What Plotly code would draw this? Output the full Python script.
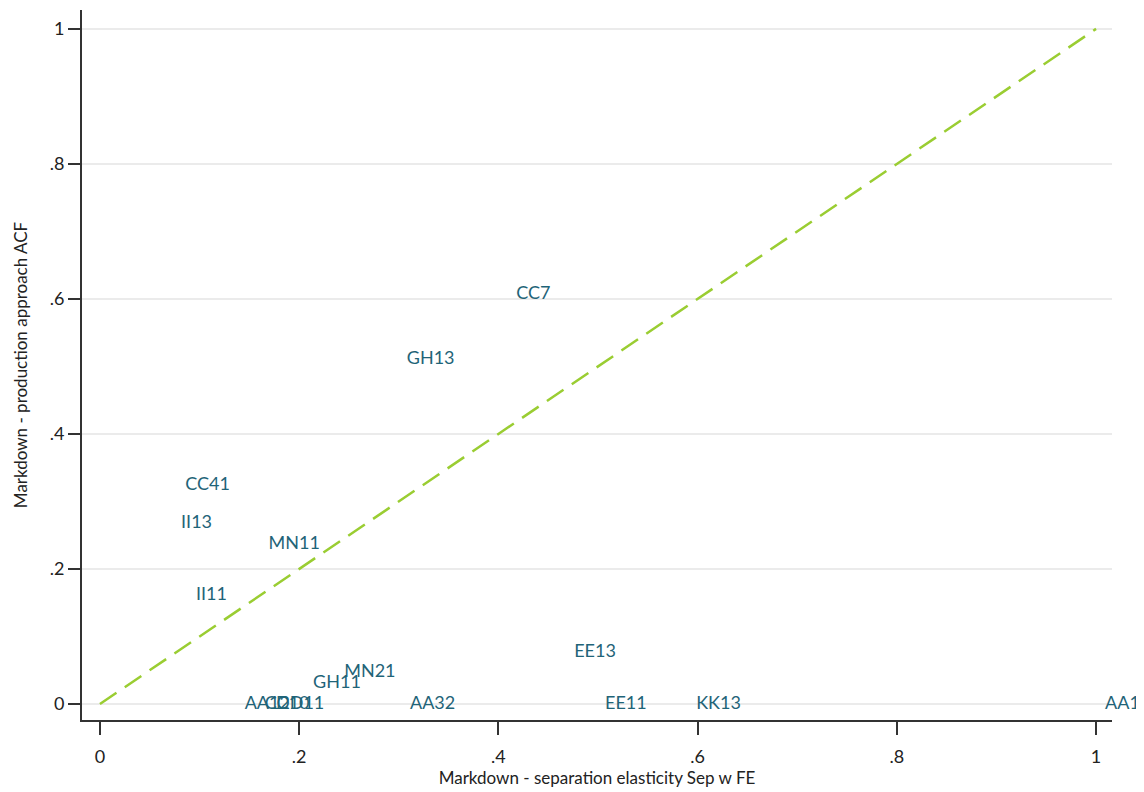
import plotly.graph_objects as go

labels = ["CC7", "GH13", "CC41", "II13", "MN11", "II11", "EE13", "MN21", "GH11",
          "AA12", "CC10", "DD11", "AA32", "EE11", "KK13", "AA11"]
x_sep = [0.435, 0.332, 0.108, 0.097, 0.195, 0.112, 0.497, 0.271, 0.238,
         0.168, 0.188, 0.201, 0.334, 0.528, 0.621, 1.009]
y_acf = [0.606, 0.511, 0.323, 0.267, 0.237, 0.160, 0.077, 0.046, 0.030,
         0.0, 0.0, 0.0, 0.0, 0.0, 0.0, 0.0]
label_pos = ["middle center"] * 15 + ["middle right"]
diag = [0, 1]
xticks = [0, 0.2, 0.4, 0.6, 0.8, 1]
xtick_text = ["0", ".2", ".4", ".6", ".8", "1"]
yticks = [0, 0.2, 0.4, 0.6, 0.8, 1]
ytick_text = ["0", ".2", ".4", ".6", ".8", "1"]

font = "Lato, 'Open Sans', sans-serif"

fig = go.Figure()
fig.add_trace(go.Scatter(x=x_sep, y=y_acf, mode="text", text=labels,
                         textposition=label_pos,
                         textfont=dict(family=font, size=18, color="#1f6478"),
                         cliponaxis=False, showlegend=False))
fig.add_trace(go.Scatter(x=diag, y=diag, mode="lines",
                         line=dict(color="#9acd32", width=2.5, dash="20px,10px"),
                         showlegend=False))

fig.update_layout(
    width=1136, height=784,
    margin=dict(l=74, r=32, t=2, b=72),
    plot_bgcolor="white", paper_bgcolor="white",
    font=dict(family=font, size=18, color="#222222"),
    xaxis=dict(range=[-0.018, 1.016], tickvals=xticks, ticktext=xtick_text,
               showgrid=False, zeroline=False, showline=True, linecolor="#333333",
               linewidth=2, ticks="outside", ticklen=13, tickwidth=2, tickcolor="#333333",
               ticklabelstandoff=6,
               title=dict(text="Markdown - separation elasticity Sep w FE", standoff=2,
                          font=dict(size=17)),
               tickfont=dict(size=18)),
    yaxis=dict(range=[-0.0237, 1.028], tickvals=yticks, ticktext=ytick_text,
               showgrid=True, gridcolor="#ebebeb", gridwidth=1.5, zeroline=False,
               showline=True, linecolor="#333333", linewidth=2,
               ticks="outside", ticklen=12, tickwidth=2, tickcolor="#333333",
               title=dict(text="Markdown - production approach ACF", standoff=18,
                          font=dict(size=17)),
               tickfont=dict(size=18)),
)
fig.write_html("out.html")
